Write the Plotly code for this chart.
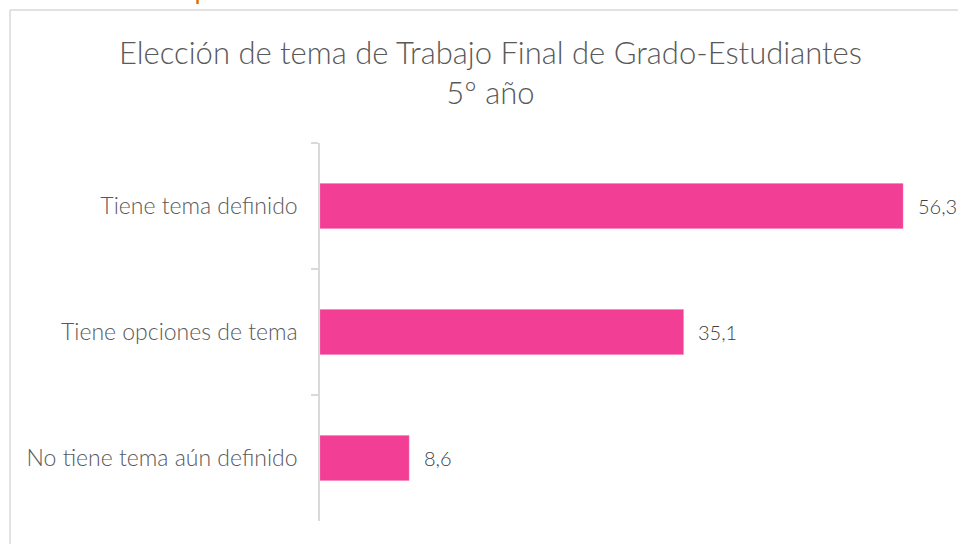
import plotly.graph_objects as go

categorias = ["Tiene tema definido", "Tiene opciones de tema", "No tiene tema aún definido"]
porcentajes = [56.3, 35.1, 8.6]

W, H = 958, 544
L, R, T, B = 320, 0, 143, 23
pw, ph = W - L - R, H - T - B

def px_x(px):
    return (px - L) / pw

def px_y(py):
    return 1 - (py - T) / ph

gris = "#d9d9d9"
texto = "#595959"
fuente = "Lato"

fig = go.Figure(go.Bar(
    y=categorias,
    x=porcentajes,
    orientation="h",
    marker=dict(color="#F23E95", line=dict(color="#F57BB5", width=0.5)),
    width=0.357,
))

# etiquetas de valor a la derecha de cada barra
etiquetas = [
    dict(x=v, y=c, xref="x", yref="y", text=f"{v:.1f}".replace(".", ","),
         xanchor="left", yanchor="middle", xshift=13, showarrow=False,
         font=dict(family=fuente, size=20, color="#404040", weight=300))
    for c, v in zip(categorias, porcentajes)
]

fig.update_layout(
    width=W, height=H,
    margin=dict(l=L, r=R, t=T, b=B),
    paper_bgcolor="white", plot_bgcolor="white",
    showlegend=False,
    xaxis=dict(range=[0, pw / ((903 - 320) / 56.3)], visible=False, fixedrange=True),
    yaxis=dict(
        autorange="reversed",
        showline=True, linecolor=gris, linewidth=1.5,
        ticks="outside", tickson="boundaries", ticklen=7, tickcolor=gris, tickwidth=1.5,
        tickfont=dict(family=fuente, size=23, color=texto, weight=300),
        ticklabelstandoff=16,
        showgrid=False,
    ),
    annotations=etiquetas + [
        dict(text="Elección de tema de Trabajo Final de Grado-Estudiantes<br>5º año",
             x=px_x(490), y=px_y(72), xref="paper", yref="paper",
             xanchor="center", yanchor="middle", showarrow=False,
             font=dict(family=fuente, size=31, color=texto, weight=300)),
    ],
    shapes=[
        dict(type="line", xref="paper", yref="paper",
             x0=px_x(10), x1=px_x(10), y0=px_y(10), y1=px_y(H + 5),
             line=dict(color=gris, width=1.5)),
        dict(type="line", xref="paper", yref="paper",
             x0=px_x(10), x1=px_x(W + 5), y0=px_y(10), y1=px_y(10),
             line=dict(color=gris, width=1.5)),
        dict(type="line", xref="paper", yref="paper",
             x0=px_x(197.5), x1=px_x(197.5), y0=px_y(0), y1=px_y(4),
             line=dict(color="#E36C0A", width=2.5)),
    ],
)

fig.write_html("out.html")
